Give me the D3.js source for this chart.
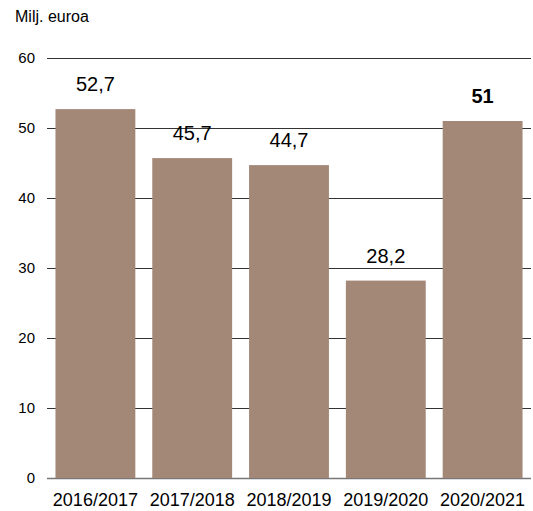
<!DOCTYPE html>
<html>
<head>
<meta charset="utf-8">
<script src="https://cdn.jsdelivr.net/npm/d3@7"></script>
<style>
  body { margin: 0; background: #fff; }
  text { font-family: "Liberation Sans", Arial, sans-serif; fill: #000; }
</style>
</head>
<body>
<div id="chart"></div>
<script>
const years = ["2016/2017", "2017/2018", "2018/2019", "2019/2020", "2020/2021"];
const values = [52.7, 45.7, 44.7, 28.2, 51];
const valueLabels = ["52,7", "45,7", "44,7", "28,2", "51"];
const yTicks = [0, 10, 20, 30, 40, 50, 60];

const width = 533, height = 511;
const margin = {top: 58, right: 2, bottom: 33, left: 47};
const innerW = width - margin.left - margin.right;
const innerH = height - margin.top - margin.bottom;

const svg = d3.select("#chart").append("svg")
    .attr("width", width)
    .attr("height", height);

const g = svg.append("g")
    .attr("transform", "translate(" + margin.left + "," + margin.top + ")");

const x = d3.scaleBand()
    .domain(years)
    .range([0, innerW])
    .paddingInner(0.175)
    .paddingOuter(0.0875);

const y = d3.scaleLinear()
    .domain([0, 60])
    .range([innerH, 0]);

// gridlines
g.selectAll(".grid")
    .data(yTicks)
    .enter()
    .append("line")
    .attr("class", "grid")
    .attr("x1", 0)
    .attr("x2", innerW)
    .attr("y1", d => Math.round(y(d)) + 0.5)
    .attr("y2", d => Math.round(y(d)) + 0.5)
    .attr("stroke", d => d === 0 ? "#777" : "#333")
    .attr("stroke-width", d => d === 0 ? 1.5 : 1);

// y tick labels
g.selectAll(".ytick")
    .data(yTicks)
    .enter()
    .append("text")
    .attr("class", "ytick")
    .attr("x", -12)
    .attr("y", d => y(d) + 5)
    .attr("text-anchor", "end")
    .style("font-size", "15px")
    .text(d => d);

// bars
g.selectAll(".bar")
    .data(values)
    .enter()
    .append("rect")
    .attr("class", "bar")
    .attr("x", (d, i) => x(years[i]))
    .attr("y", d => y(d))
    .attr("width", x.bandwidth())
    .attr("height", d => innerH - y(d))
    .attr("fill", "#a38877");

// value labels
g.selectAll(".vlabel")
    .data(values)
    .enter()
    .append("text")
    .attr("class", "vlabel")
    .attr("x", (d, i) => x(years[i]) + x.bandwidth() / 2)
    .attr("y", d => y(d) - 18)
    .attr("text-anchor", "middle")
    .style("font-size", "20px")
    .style("font-weight", (d, i) => i === values.length - 1 ? "bold" : "normal")
    .text((d, i) => valueLabels[i]);

// x labels
g.selectAll(".xlabel")
    .data(years)
    .enter()
    .append("text")
    .attr("class", "xlabel")
    .attr("x", d => x(d) + x.bandwidth() / 2)
    .attr("y", innerH + 28)
    .attr("text-anchor", "middle")
    .style("font-size", "18px")
    .text(d => d);

// axis title
svg.append("text")
    .attr("x", 15)
    .attr("y", 22)
    .style("font-size", "16px")
    .text("Milj. euroa");
</script>
</body>
</html>
